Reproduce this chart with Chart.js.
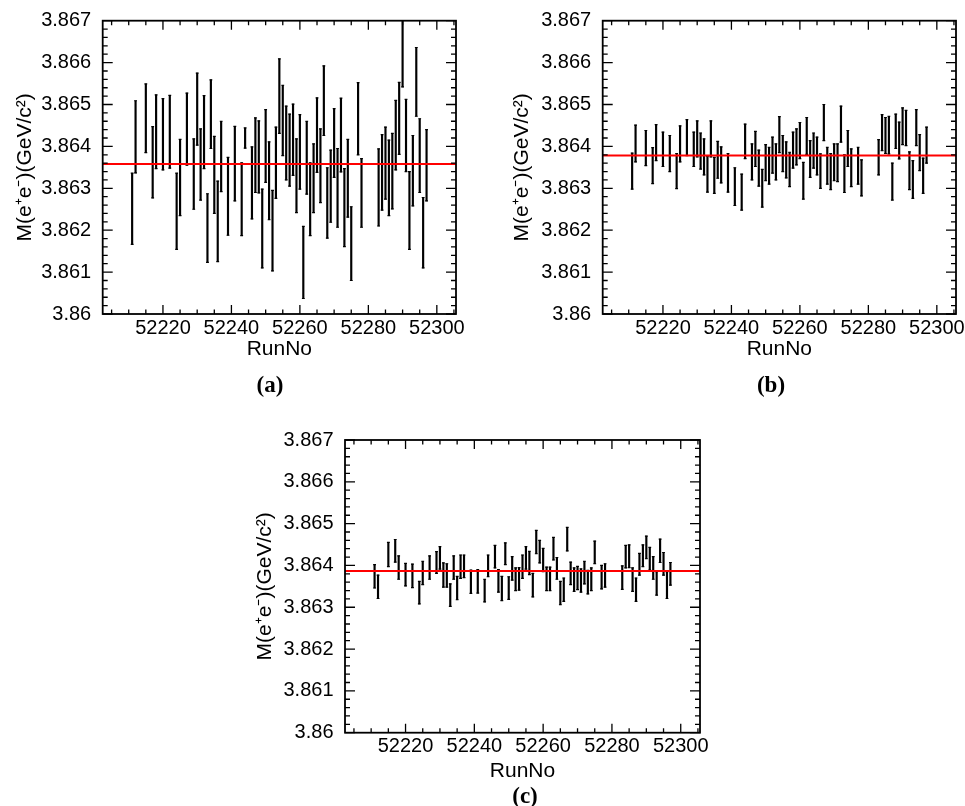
<!DOCTYPE html>
<html>
<head>
<meta charset="utf-8">
<title>M(e+e-) vs RunNo</title>
<script src="https://cdn.jsdelivr.net/npm/chart.js@4.4.1/dist/chart.umd.min.js"></script>
<style>
    html, body { margin: 0; padding: 0; background: #fff; }
    #page { position: relative; width: 965px; height: 806px; overflow: hidden; background: #fff; }
    canvas { position: absolute; }
    .caption {
        position: absolute;
        font: bold 23px "Liberation Serif", "Times New Roman", serif;
        color: #000;
        transform: translate(-50%, -50%);
        white-space: nowrap;
    }
</style>
</head>
<body>
<div id="page">
    <canvas id="chart-a" width="480" height="400" style="left:0px;top:0px"></canvas>
    <canvas id="chart-b" width="480" height="400" style="left:500px;top:0px"></canvas>
    <canvas id="chart-c" width="480" height="400" style="left:242px;top:420px"></canvas>
    <div class="caption" style="left:270px;top:385px">(a)</div>
    <div class="caption" style="left:771px;top:385px">(b)</div>
    <div class="caption" style="left:525px;top:796px">(c)</div>
</div>

<script>
// ------------------------------
// DATA
// ------------------------------
const runs = [
    52211, 52212, 52215, 52217, 52218, 52220, 52222, 52224, 52225, 52227,
    52229, 52230, 52231, 52232, 52233, 52234, 52235, 52236, 52237, 52239,
    52241, 52243, 52244, 52246, 52247, 52248, 52249, 52250, 52251, 52252,
    52253, 52254, 52255, 52256, 52257, 52258, 52259, 52260, 52261, 52262,
    52263, 52264, 52265, 52266, 52267, 52268, 52269, 52270, 52271, 52272,
    52273, 52274, 52275, 52277, 52278, 52283, 52284, 52285, 52286, 52287,
    52288, 52289, 52290, 52291, 52292, 52293, 52294, 52295, 52296, 52297
];

// panel (a)
const massA = [
    3.86251, 3.86423, 3.86467, 3.86362, 3.86435, 3.86429, 3.86435, 3.86245, 3.86326, 3.86441,
    3.86334, 3.86489, 3.86357, 3.86434, 3.86205, 3.86477, 3.86332, 3.86221, 3.86376, 3.86281,
    3.86359, 3.86274, 3.86420, 3.86313, 3.86379, 3.86375, 3.86204, 3.86401, 3.86318, 3.86199,
    3.86361, 3.86520, 3.86462, 3.86408, 3.86391, 3.86416, 3.86330, 3.86387, 3.86123, 3.86373,
    3.86274, 3.86324, 3.86427, 3.86354, 3.86509, 3.86265, 3.86305, 3.86408, 3.86301, 3.86427,
    3.86254, 3.86324, 3.86168, 3.86466, 3.86289, 3.86302, 3.86338, 3.86360, 3.86325, 3.86341,
    3.86427, 3.86467, 3.86627, 3.86426, 3.86247, 3.86342, 3.86554, 3.86378, 3.86194, 3.86355
];
const errA = [
    0.00085, 0.00086, 0.00082, 0.00085, 0.00088, 0.00085, 0.00087, 0.00091, 0.00091, 0.00086,
    0.00084, 0.00086, 0.00085, 0.00087, 0.00082, 0.00082, 0.00092, 0.00096, 0.00084, 0.00093,
    0.00089, 0.00087, 0.00024, 0.00086, 0.00089, 0.00086, 0.00094, 0.00087, 0.00093, 0.00096,
    0.00085, 0.00089, 0.00084, 0.00088, 0.00086, 0.00085, 0.00088, 0.00089, 0.00086, 0.00087,
    0.00087, 0.00082, 0.00089, 0.00088, 0.00083, 0.00084, 0.00086, 0.00082, 0.00094, 0.00088,
    0.00093, 0.00093, 0.00088, 0.00086, 0.00082, 0.00092, 0.00090, 0.00086, 0.00090, 0.00090,
    0.00083, 0.00086, 0.00085, 0.00086, 0.00093, 0.00084, 0.00082, 0.00088, 0.00084, 0.00085
];
const fitA = 3.86358;

// panel (b)
const massB = [
    3.86341, 3.86407, 3.86396, 3.86354, 3.86409, 3.86393, 3.86383, 3.86341, 3.86406, 3.86421,
    3.86393, 3.86418, 3.86389, 3.86375, 3.86334, 3.86418, 3.86331, 3.86368, 3.86356, 3.86337,
    3.86304, 3.86291, 3.86412, 3.86363, 3.86394, 3.86348, 3.86300, 3.86361, 3.86354, 3.86379,
    3.86363, 3.86428, 3.86383, 3.86368, 3.86345, 3.86391, 3.86399, 3.86414, 3.86318, 3.86425,
    3.86370, 3.86390, 3.86377, 3.86341, 3.86457, 3.86354, 3.86340, 3.86362, 3.86361, 3.86453,
    3.86335, 3.86395, 3.86349, 3.86354, 3.86325, 3.86374, 3.86433, 3.86426, 3.86427, 3.86316,
    3.86436, 3.86414, 3.86448, 3.86444, 3.86342, 3.86321, 3.86445, 3.86385, 3.86330, 3.86403
];
const errB = [
    0.00043, 0.00044, 0.00042, 0.00043, 0.00043, 0.00041, 0.00043, 0.00042, 0.00043, 0.00043,
    0.00041, 0.00043, 0.00043, 0.00043, 0.00043, 0.00043, 0.00043, 0.00044, 0.00043, 0.00046,
    0.00045, 0.00043, 0.00041, 0.00043, 0.00042, 0.00043, 0.00045, 0.00043, 0.00044, 0.00043,
    0.00043, 0.00043, 0.00043, 0.00043, 0.00041, 0.00043, 0.00043, 0.00043, 0.00044, 0.00044,
    0.00044, 0.00042, 0.00045, 0.00041, 0.00043, 0.00044, 0.00043, 0.00044, 0.00045, 0.00043,
    0.00045, 0.00043, 0.00045, 0.00044, 0.00043, 0.00042, 0.00043, 0.00043, 0.00045, 0.00044,
    0.00041, 0.00044, 0.00044, 0.00042, 0.00045, 0.00045, 0.00043, 0.00043, 0.00042, 0.00043
];
const fitB = 3.86378;

// panel (c)
const massC = [
    3.86374, 3.86349, 3.86426, 3.86435, 3.86395, 3.86378, 3.86375, 3.86335, 3.86382, 3.86395,
    3.86407, 3.86418, 3.86377, 3.86376, 3.86329, 3.86395, 3.86346, 3.86397, 3.86398, 3.86361,
    3.86362, 3.86340, 3.86399, 3.86421, 3.86363, 3.86345, 3.86428, 3.86346, 3.86393, 3.86367,
    3.86368, 3.86397, 3.86418, 3.86406, 3.86353, 3.86456, 3.86433, 3.86413, 3.86368, 3.86368,
    3.86440, 3.86393, 3.86334, 3.86342, 3.86463, 3.86381, 3.86366, 3.86370, 3.86364, 3.86383,
    3.86360, 3.86367, 3.86431, 3.86372, 3.86376, 3.86371, 3.86421, 3.86422, 3.86366, 3.86342,
    3.86403, 3.86423, 3.86443, 3.86416, 3.86394, 3.86357, 3.86435, 3.86404, 3.86353, 3.86380
];
const errC = [
    0.00028, 0.00028, 0.00029, 0.00027, 0.00028, 0.00027, 0.00028, 0.00027, 0.00028, 0.00028,
    0.00026, 0.00027, 0.00029, 0.00028, 0.00027, 0.00028, 0.00028, 0.00028, 0.00027, 0.00028,
    0.00028, 0.00027, 0.00026, 0.00027, 0.00027, 0.00029, 0.00026, 0.00027, 0.00028, 0.00027,
    0.00027, 0.00028, 0.00027, 0.00028, 0.00028, 0.00028, 0.00027, 0.00028, 0.00028, 0.00028,
    0.00027, 0.00026, 0.00028, 0.00028, 0.00028, 0.00027, 0.00028, 0.00028, 0.00028, 0.00027,
    0.00028, 0.00027, 0.00027, 0.00028, 0.00028, 0.00028, 0.00027, 0.00027, 0.00028, 0.00028,
    0.00026, 0.00026, 0.00027, 0.00027, 0.00027, 0.00028, 0.00028, 0.00027, 0.00032, 0.00027
];
const fitC = 3.86387;

// axes
const xTicks = [52220, 52240, 52260, 52280, 52300];
const yTicks = [3.860, 3.861, 3.862, 3.863, 3.864, 3.865, 3.866, 3.867];
const X_MIN = 52202.4;
const X_MAX = 52305.6;
const Y_MIN = 3.860;
const Y_MAX = 3.867;

const FONT = '"Liberation Sans", Arial, Helvetica, sans-serif';

// ------------------------------
// ROOT STYLE FRAME + INNER TICKS
// ------------------------------
const rootFrame = {
    id: "rootFrame",
    afterDraw(chart) {
        const { ctx, chartArea: a } = chart;
        const x = chart.scales.x;
        const y = chart.scales.y;

        ctx.save();
        ctx.strokeStyle = "#000";
        ctx.lineWidth = 1.3;
        ctx.beginPath();

        // x ticks every 5, major every 20
        for (let v = 52205; v <= X_MAX; v += 5) {
            const px = x.getPixelForValue(v);
            const len = v % 20 === 0 ? 9 : 4.5;
            ctx.moveTo(px, a.bottom); ctx.lineTo(px, a.bottom - len);
            ctx.moveTo(px, a.top);    ctx.lineTo(px, a.top + len);
        }

        // y ticks every 0.0002, major every 0.001
        for (let i = 0; i <= 35; i++) {
            const py = y.getPixelForValue(Y_MIN + i * 0.0002);
            const len = i % 5 === 0 ? 10 : 5;
            ctx.moveTo(a.left, py);  ctx.lineTo(a.left + len, py);
            ctx.moveTo(a.right, py); ctx.lineTo(a.right - len, py);
        }
        ctx.stroke();

        ctx.lineWidth = 1.8;
        ctx.strokeRect(a.left, a.top, a.right - a.left, a.bottom - a.top);
        ctx.restore();
    }
};

// ------------------------------
// BUILD ONE PANEL
// ------------------------------
function buildPanel(id, mass, err, fit, box) {
    const canvas = document.getElementById(id);
    const W = canvas.width, H = canvas.height;

    const bars = runs.map((r, i) => ({ x: r, y: [mass[i] - err[i], mass[i] + err[i]] }));
    const tops = runs.map((r, i) => ({ x: r, y: mass[i] + err[i] }));
    const lows = runs.map((r, i) => ({ x: r, y: mass[i] - err[i] }));

    return new Chart(canvas.getContext("2d"), {
        type: "bar",
        data: {
            datasets: [
                {
                    type: "line",
                    data: [{ x: X_MIN, y: fit }, { x: X_MAX, y: fit }],
                    borderColor: "#ff0000",
                    borderWidth: 2,
                    pointRadius: 0
                },
                {
                    type: "scatter",
                    data: tops.concat(lows),
                    pointStyle: "line",
                    pointRadius: 1.4,
                    pointBorderWidth: 1.2,
                    pointBorderColor: "#000",
                    clip: 0
                },
                {
                    type: "bar",
                    data: bars,
                    backgroundColor: "#000",
                    borderWidth: 0,
                    barThickness: 1.5,
                    grouped: false
                }
            ]
        },
        options: {
            responsive: false,
            animation: false,
            events: [],
            layout: { padding: { left: 0, top: box.top, right: W - box.right, bottom: 0 } },
            plugins: {
                legend: { display: false },
                tooltip: { enabled: false }
            },
            scales: {
                x: {
                    type: "linear",
                    min: X_MIN,
                    max: X_MAX,
                    offset: false,
                    grid: { display: false },
                    border: { display: false },
                    afterBuildTicks: (s) => { s.ticks = xTicks.map(v => ({ value: v })); },
                    afterFit: (s) => { s.height = H - box.bottom; },
                    ticks: {
                        color: "#000",
                        font: { family: FONT, size: 20 },
                        padding: -6,
                        maxRotation: 0,
                        autoSkip: false,
                        callback: (v) => String(v)
                    },
                    title: {
                        display: true,
                        text: "RunNo",
                        color: "#000",
                        font: { family: FONT, size: 21 },
                        padding: { top: 0, bottom: H - 12.6 - box.xTitleY }
                    }
                },
                y: {
                    type: "linear",
                    min: Y_MIN,
                    max: Y_MAX,
                    grid: { display: false },
                    border: { display: false },
                    afterBuildTicks: (s) => { s.ticks = yTicks.map(v => ({ value: v })); },
                    afterFit: (s) => { s.width = box.left; },
                    ticks: {
                        color: "#000",
                        font: { family: FONT, size: 20 },
                        padding: 3.5,
                        callback: (v) => String(+v.toFixed(3))
                    },
                    title: {
                        display: true,
                        text: "M(e\u207Ae\u207B)(GeV/c\u00B2)",
                        color: "#000",
                        font: { family: FONT, size: 21 },
                        padding: { top: box.yTitleX - 12.6, bottom: 0 }
                    }
                }
            }
        },
        plugins: [rootFrame]
    });
}

buildPanel("chart-a", massA, errA, fitA, { left: 102.7, top: 20.7, right: 456, bottom: 314, yTitleX: 25, xTitleY: 349 });
buildPanel("chart-b", massB, errB, fitB, { left: 102.7, top: 20.7, right: 456, bottom: 314, yTitleX: 22, xTitleY: 349 });
buildPanel("chart-c", massC, errC, fitC, { left: 103, top: 20, right: 458, bottom: 312.7, yTitleX: 23, xTitleY: 351 });
</script>
</body>
</html>
